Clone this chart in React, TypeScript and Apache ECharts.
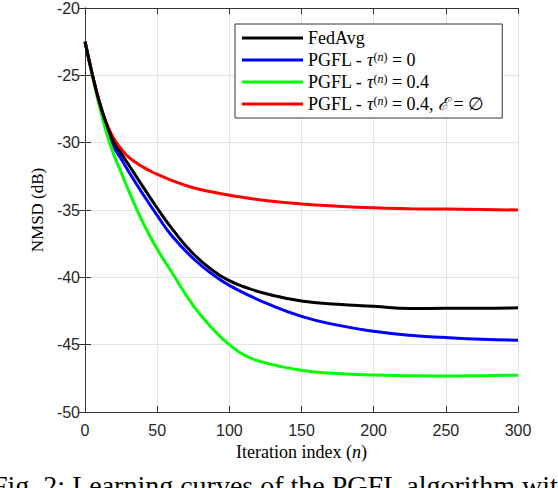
import { useEffect, useRef } from 'react';
import * as echarts from 'echarts';

// iteration index n
const iterations = [0, 5, 10, 15, 20, 25, 30, 40, 50, 60, 75, 90, 100, 110, 125, 150, 175, 200, 225, 250, 275, 300];

// NMSD (dB)
const fedAvg = [-22.5, -24.9, -27.0, -28.65, -30.0, -30.8, -31.6, -33.25, -34.85, -36.35, -38.25, -39.6, -40.25, -40.7, -41.2, -41.75, -42.0, -42.15, -42.32, -42.3, -42.3, -42.25];
const pgflTau0 = [-22.5, -24.9, -27.0, -28.7, -30.3, -31.2, -32.1, -33.8, -35.4, -36.9, -38.6, -39.9, -40.6, -41.15, -41.9, -42.9, -43.55, -44.0, -44.3, -44.47, -44.6, -44.67];
const pgflTau04 = [-22.5, -24.95, -27.3, -29.3, -30.9, -32.2, -33.5, -35.9, -37.9, -39.6, -42.1, -44.0, -45.0, -45.75, -46.35, -46.9, -47.15, -47.26, -47.3, -47.33, -47.3, -47.27];
const pgflEmpty = [-22.5, -24.9, -27.0, -28.6, -29.7, -30.45, -31.05, -31.8, -32.35, -32.8, -33.35, -33.7, -33.9, -34.07, -34.3, -34.55, -34.72, -34.84, -34.9, -34.93, -34.96, -35.0];

const seriesNames = ['FedAvg', 'PGFL - tau0', 'PGFL - tau04', 'PGFL - tau04 empty'];
const seriesColors = ['#000000', '#0000ff', '#00ff00', '#ff0000'];
const seriesValues = [fedAvg, pgflTau0, pgflTau04, pgflEmpty];

const legendLabels: Record<string, string> = {
    'FedAvg': 'FedAvg',
    'PGFL - tau0': 'PGFL - {it|τ}{sup|(}{supi|n}{sup|)} = 0',
    'PGFL - tau04': 'PGFL - {it|τ}{sup|(}{supi|n}{sup|)} = 0.4',
    'PGFL - tau04 empty': 'PGFL - {it|τ}{sup|(}{supi|n}{sup|)} = 0.4, {it|ℰ} = ∅',
};

const serif = '"Liberation Serif", "DejaVu Serif", serif';
const sans = '"Liberation Sans", Arial, sans-serif';
const axisColor = '#333333';

export default function App() {
    const chartRef = useRef<HTMLDivElement>(null);

    useEffect(() => {
        if (!chartRef.current) return;
        const chart = echarts.init(chartRef.current, null, { renderer: 'svg' });

        const tick = { show: true, inside: true, length: 6, lineStyle: { color: axisColor } };
        const line = { show: true, lineStyle: { color: axisColor, width: 1 } };

        const option = {
            animation: false,
            grid: { left: 85, right: 40, top: 7, bottom: 76 },
            legend: {
                orient: 'vertical',
                left: 235,
                top: 24,
                padding: [5, 18, 5, 7],
                itemGap: 4,
                itemWidth: 61,
                itemHeight: 3,
                icon: 'rect',
                backgroundColor: '#ffffff',
                borderColor: '#333333',
                borderWidth: 1,
                borderRadius: 0,
                data: seriesNames,
                formatter: (name: string) => legendLabels[name],
                textStyle: {
                    fontFamily: serif,
                    fontSize: 18,
                    color: '#000',
                    lineHeight: 18,
                    rich: {
                        it: { fontFamily: serif, fontSize: 18, fontStyle: 'italic', color: '#000' },
                        sup: { fontFamily: serif, fontSize: 12, verticalAlign: 'top', color: '#000', lineHeight: 10 },
                        supi: { fontFamily: serif, fontSize: 12, fontStyle: 'italic', verticalAlign: 'top', color: '#000', lineHeight: 10 },
                    },
                },
            },
            xAxis: [
                {
                    type: 'value',
                    min: 0,
                    max: 300,
                    interval: 50,
                    name: 'Iteration index ({i|n})',
                    nameLocation: 'middle',
                    nameGap: 26,
                    nameTextStyle: {
                        fontFamily: serif,
                        fontSize: 18,
                        color: '#000',
                        rich: { i: { fontFamily: serif, fontSize: 18, fontStyle: 'italic', color: '#000' } },
                    },
                    axisLine: line,
                    axisTick: tick,
                    axisLabel: { fontFamily: sans, fontSize: 16, color: '#262626', margin: 10 },
                    splitLine: { show: true, lineStyle: { color: '#e3e3e3', width: 1 } },
                },
                {
                    type: 'value',
                    position: 'top',
                    min: 0,
                    max: 300,
                    interval: 50,
                    axisLine: line,
                    axisTick: tick,
                    axisLabel: { show: false },
                    splitLine: { show: false },
                },
            ],
            yAxis: [
                {
                    type: 'value',
                    min: -50,
                    max: -20,
                    interval: 5,
                    name: 'NMSD (dB)',
                    nameLocation: 'middle',
                    nameGap: 36,
                    nameTextStyle: { fontFamily: serif, fontSize: 17, color: '#000' },
                    axisLine: line,
                    axisTick: tick,
                    axisLabel: { fontFamily: sans, fontSize: 16, color: '#262626', margin: 5 },
                    splitLine: { show: true, lineStyle: { color: '#e3e3e3', width: 1 } },
                },
                {
                    type: 'value',
                    position: 'right',
                    min: -50,
                    max: -20,
                    interval: 5,
                    axisLine: line,
                    axisTick: tick,
                    axisLabel: { show: false },
                    splitLine: { show: false },
                },
            ],
            series: seriesNames.map((name, i) => ({
                name,
                type: 'line',
                xAxisIndex: 0,
                yAxisIndex: 0,
                data: iterations.map((n, k) => [n, seriesValues[i][k]]),
                showSymbol: false,
                symbol: 'none',
                smooth: 0.5,
                lineStyle: { color: seriesColors[i], width: 3 },
                itemStyle: { color: seriesColors[i] },
                z: i === 0 ? 3 : 2,
            })),
            graphic: [
                {
                    type: 'text',
                    left: -8,
                    top: 471,
                    silent: true,
                    style: {
                        text: 'Fig. 2: Learning curves of the PGFL algorithm with different',
                        fontFamily: serif,
                        fontSize: 28,
                        fill: '#000',
                    },
                },
            ],
        };

        chart.setOption(option);

        return () => {
            chart.dispose();
        };
    }, []);

    return (
        <div
            ref={chartRef}
            style={{ position: 'absolute', left: 0, top: 0, width: 558, height: 488, background: '#fff' }}
        />
    );
}
